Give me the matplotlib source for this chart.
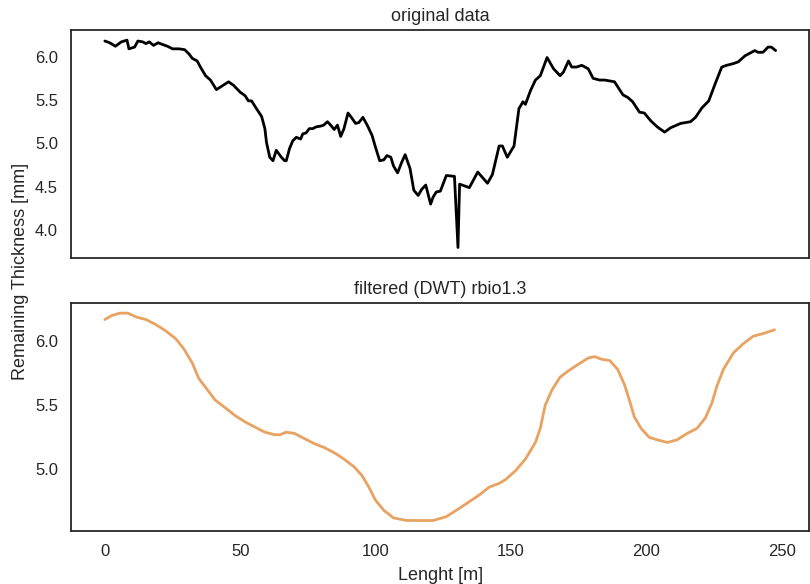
import matplotlib
matplotlib.use("Agg")
import matplotlib.pyplot as plt
import seaborn as sns

# original data
x_raw = [0, 1.8, 3.9, 6.1, 8.2, 8.9, 11, 12.2, 14, 15.2, 16.4, 18, 19.7, 21.3, 23.1,
         25, 27.4, 29.5, 31.1, 32.3, 34.1, 35.3, 37.2, 39, 41.2, 43.2, 45.7, 47.5,
         50, 51.8, 53, 54.2, 56, 57.9, 59.1, 59.7, 60.9, 62.1, 63.3, 65.2, 66.4, 67,
         68.2, 69.4, 70.7, 72.3, 73.1, 74.3, 75.5, 76.8, 78, 79.8, 80.8, 82.2, 83.4,
         84.7, 85.9, 87.1, 88.3, 89.8, 90.8, 92.6, 93.8, 95.3, 96.9, 98.7, 99.9,
         101.5, 103, 104.2, 105.6, 106.6, 108.1, 109.6, 110.9, 112.7, 114.1, 115.7,
         117, 118.5, 120.3, 121.2, 122.4, 123.9, 126.1, 129.1, 130.4, 131, 134.6,
         137.7, 141.3, 143.1, 145.6, 146.8, 148.6, 151.1, 152.9, 154.4, 155.3, 157.2,
         159, 160.8, 163.3, 165.7, 168.1, 169.3, 171.2, 172.4, 174.2, 176.1, 178.5,
         180.3, 182.7, 184.6, 188.2, 191.3, 193.1, 194.9, 197.4, 199.2, 201.6, 204,
         206.7, 208.9, 212.6, 216.3, 218.1, 220.5, 223, 225.4, 227.8, 229.6, 232.1,
         233.9, 236.4, 240, 241.2, 243, 244.9, 246.1, 247.7]
y_raw = [6.18, 6.16, 6.12, 6.17, 6.19, 6.09, 6.11, 6.18, 6.17, 6.15, 6.17, 6.13, 6.16,
         6.14, 6.12, 6.09, 6.09, 6.08, 6.03, 5.98, 5.95, 5.88, 5.78, 5.73, 5.62, 5.66,
         5.71, 5.67, 5.59, 5.55, 5.49, 5.49, 5.40, 5.31, 5.17, 5.01, 4.84, 4.80, 4.92,
         4.84, 4.80, 4.80, 4.94, 5.03, 5.07, 5.05, 5.11, 5.12, 5.17, 5.17, 5.19, 5.20,
         5.21, 5.25, 5.21, 5.16, 5.21, 5.08, 5.17, 5.35, 5.31, 5.23, 5.24, 5.30, 5.21,
         5.09, 4.96, 4.80, 4.81, 4.86, 4.84, 4.74, 4.66, 4.78, 4.87, 4.71, 4.46, 4.40,
         4.47, 4.52, 4.30, 4.38, 4.44, 4.45, 4.63, 4.62, 3.80, 4.53, 4.49, 4.67, 4.54,
         4.64, 4.97, 4.97, 4.84, 4.97, 5.40, 5.48, 5.45, 5.61, 5.73, 5.78, 5.99, 5.86,
         5.78, 5.82, 5.95, 5.88, 5.88, 5.90, 5.86, 5.75, 5.73, 5.73, 5.71, 5.56, 5.53,
         5.48, 5.36, 5.35, 5.26, 5.19, 5.13, 5.18, 5.23, 5.25, 5.30, 5.41, 5.49, 5.69,
         5.88, 5.90, 5.92, 5.94, 6.01, 6.07, 6.05, 6.05, 6.11, 6.11, 6.07]

# filtered (DWT) rbio1.3
x_filt = [0, 2.4, 5.5, 8.5, 11.6, 15.2, 18.9, 22.6, 26.2, 29.2, 32.3, 34.7, 37.2, 40.8,
          44.5, 48.1, 51.8, 55.4, 59.1, 62.8, 64.6, 67, 70.1, 73.7, 77.4, 81, 84.7,
          88.3, 92, 95, 97.5, 99.9, 103, 106.6, 111.5, 116.3, 121.2, 126.1, 129.8,
          133.4, 138.3, 141.9, 145.6, 148, 151.7, 155.3, 159, 160.8, 162.6, 165.1,
          168.1, 171.2, 174.8, 178.5, 180.9, 183.4, 186.4, 189.4, 191.9, 193.7, 195.5,
          198, 201, 204, 207.7, 211.3, 215, 218.7, 221.7, 224.2, 226, 228.4, 232.1,
          235.7, 239.4, 243, 247.3]
y_filt = [6.17, 6.20, 6.22, 6.22, 6.19, 6.17, 6.13, 6.08, 6.02, 5.94, 5.83, 5.71, 5.64,
          5.54, 5.48, 5.42, 5.37, 5.33, 5.29, 5.27, 5.27, 5.29, 5.28, 5.24, 5.20, 5.17,
          5.13, 5.08, 5.02, 4.95, 4.86, 4.76, 4.68, 4.62, 4.60, 4.60, 4.60, 4.63, 4.68,
          4.73, 4.80, 4.86, 4.89, 4.92, 4.99, 5.08, 5.21, 5.32, 5.50, 5.62, 5.72, 5.77,
          5.82, 5.87, 5.88, 5.86, 5.85, 5.78, 5.66, 5.54, 5.41, 5.32, 5.25, 5.23, 5.21,
          5.23, 5.28, 5.32, 5.40, 5.52, 5.65, 5.78, 5.91, 5.98, 6.04, 6.06, 6.09]

sns.set_style("white")
plt.rcParams['font.family'] = ['Liberation Sans', 'DejaVu Sans']

fig, (ax1, ax2) = plt.subplots(2, 1, sharex=True, figsize=(8.1, 5.84), dpi=100)
fig.subplots_adjust(left=0.088, right=0.999, top=0.949, bottom=0.091, hspace=0.197)

ax1.plot(x_raw, y_raw, color='black', lw=2.0)
ax1.set_title('original data', fontsize=13, color='.15')

ax2.plot(x_filt, y_filt, color='#e8a262', lw=2.0)
ax2.set_title('filtered (DWT) rbio1.3', fontsize=13, color='.15')
ax2.set_xlabel('Lenght [m]', fontsize=13, color='.15', labelpad=6)

fig.text(0.025, 0.535, 'Remaining Thickness [mm]', rotation=90, va='center',
         ha='center', fontsize=13, color='.15')

for ax in (ax1, ax2):
    ax.tick_params(labelsize=12, colors='.15', pad=6)
    for s in ax.spines.values():
        s.set_color('.15')
        s.set_linewidth(1.3)

ax1.set_yticks([4.0, 4.5, 5.0, 5.5, 6.0])
ax2.set_yticks([5.0, 5.5, 6.0])
ax2.set_xticks([0, 50, 100, 150, 200, 250])

plt.savefig("out.png", dpi=100)
